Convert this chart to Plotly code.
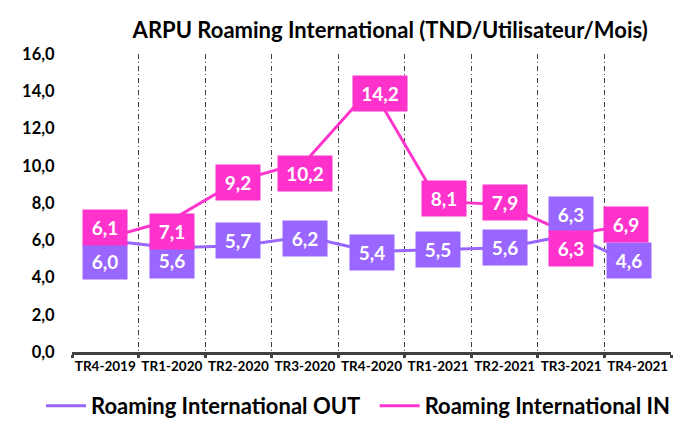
import plotly.graph_objects as go

categories = ["TR4-2019", "TR1-2020", "TR2-2020", "TR3-2020", "TR4-2020",
              "TR1-2021", "TR2-2021", "TR3-2021", "TR4-2021"]
out_vals = [6.0, 5.6, 5.7, 6.2, 5.4, 5.5, 5.6, 6.3, 4.6]
in_vals = [6.1, 7.1, 9.2, 10.2, 14.2, 8.1, 7.9, 6.3, 6.9]
y_ticks = [0, 2, 4, 6, 8, 10, 12, 14, 16]

OUT_COL = "#9966FF"
IN_COL = "#FF33CC"
FONT = "Lato"

# label offsets (pixels) for readability, like the original manual placement
out_yshift = [-21, -13, 5, -2, -1, 0, 0, 20, 6]
out_xshift = [0, 0, 0, 0, 0, 0, 0, 0, -9]
in_yshift = [11, -12, -2, -11, -6, 3, 2, -14, -1]
in_xshift = [0, 0, 0, 0, 8, 6, 0, 0, -12]

fig = go.Figure()
fig.add_trace(go.Scatter(x=categories, y=out_vals, mode="lines",
                         name="Roaming International OUT", legend="legend",
                         line=dict(color=OUT_COL, width=3)))
fig.add_trace(go.Scatter(x=categories, y=in_vals, mode="lines",
                         name="Roaming International IN", legend="legend2",
                         line=dict(color=IN_COL, width=3)))

annotations = []
for vals, col, ys, xs in [(out_vals, OUT_COL, out_yshift, out_xshift),
                          (in_vals, IN_COL, in_yshift, in_xshift)]:
    for c, v, dy, dx in zip(categories, vals, ys, xs):
        txt = f"{v:.1f}".replace(".", ",")
        annotations.append(dict(
            x=c, y=v, xref="x", yref="y",
            text=txt,
            showarrow=False, bgcolor=col, width=10 * len(txt) + 8, height=29,
            borderpad=3, yshift=dy, xshift=dx,
            font=dict(family=FONT, size=19, color="white", weight="bold"),
        ))

legend_font = dict(family=FONT, size=22, color="black", weight="bold")
fig.update_layout(
    width=674, height=419,
    margin=dict(l=64, r=11, t=46, b=75, autoexpand=False),
    plot_bgcolor="white", paper_bgcolor="white",
    separators=",.",
    title=dict(text="ARPU Roaming International (TND/Utilisateur/Mois)",
               x=0.567, xanchor="center", xref="container",
               y=0.947, yanchor="middle",
               font=dict(family=FONT, size=22, color="black", weight="bold")),
    showlegend=True,
    legend=dict(orientation="h", xref="container", x=0.049, xanchor="left",
                yref="container", y=-0.058, yanchor="bottom",
                bgcolor="rgba(0,0,0,0)", font=legend_font, itemwidth=40),
    legend2=dict(orientation="h", xref="container", x=0.544, xanchor="left",
                 yref="container", y=-0.058, yanchor="bottom",
                 bgcolor="rgba(0,0,0,0)", font=legend_font, itemwidth=40),
    annotations=annotations,
)
fig.update_xaxes(type="category", tickson="boundaries",
                 showgrid=True, gridcolor="#404040", griddash="5px,3px,1px,3px", gridwidth=1,
                 showline=True, linecolor="#404040", linewidth=3,
                 ticks="outside", ticklen=3, tickcolor="#404040", tickwidth=3,
                 tickangle=0,
                 tickfont=dict(family=FONT, size=13.5, color="black", weight="bold"),
                 range=[-0.5, 8.5])
fig.update_yaxes(range=[0, 16], tickvals=y_ticks, tickformat=".1f",
                 showgrid=False, zeroline=False, showline=False,
                 ticks="outside", ticklen=13, tickcolor="rgba(0,0,0,0)",
                 tickfont=dict(family=FONT, size=16.5, color="black", weight="bold"))

fig.write_html("out.html")
